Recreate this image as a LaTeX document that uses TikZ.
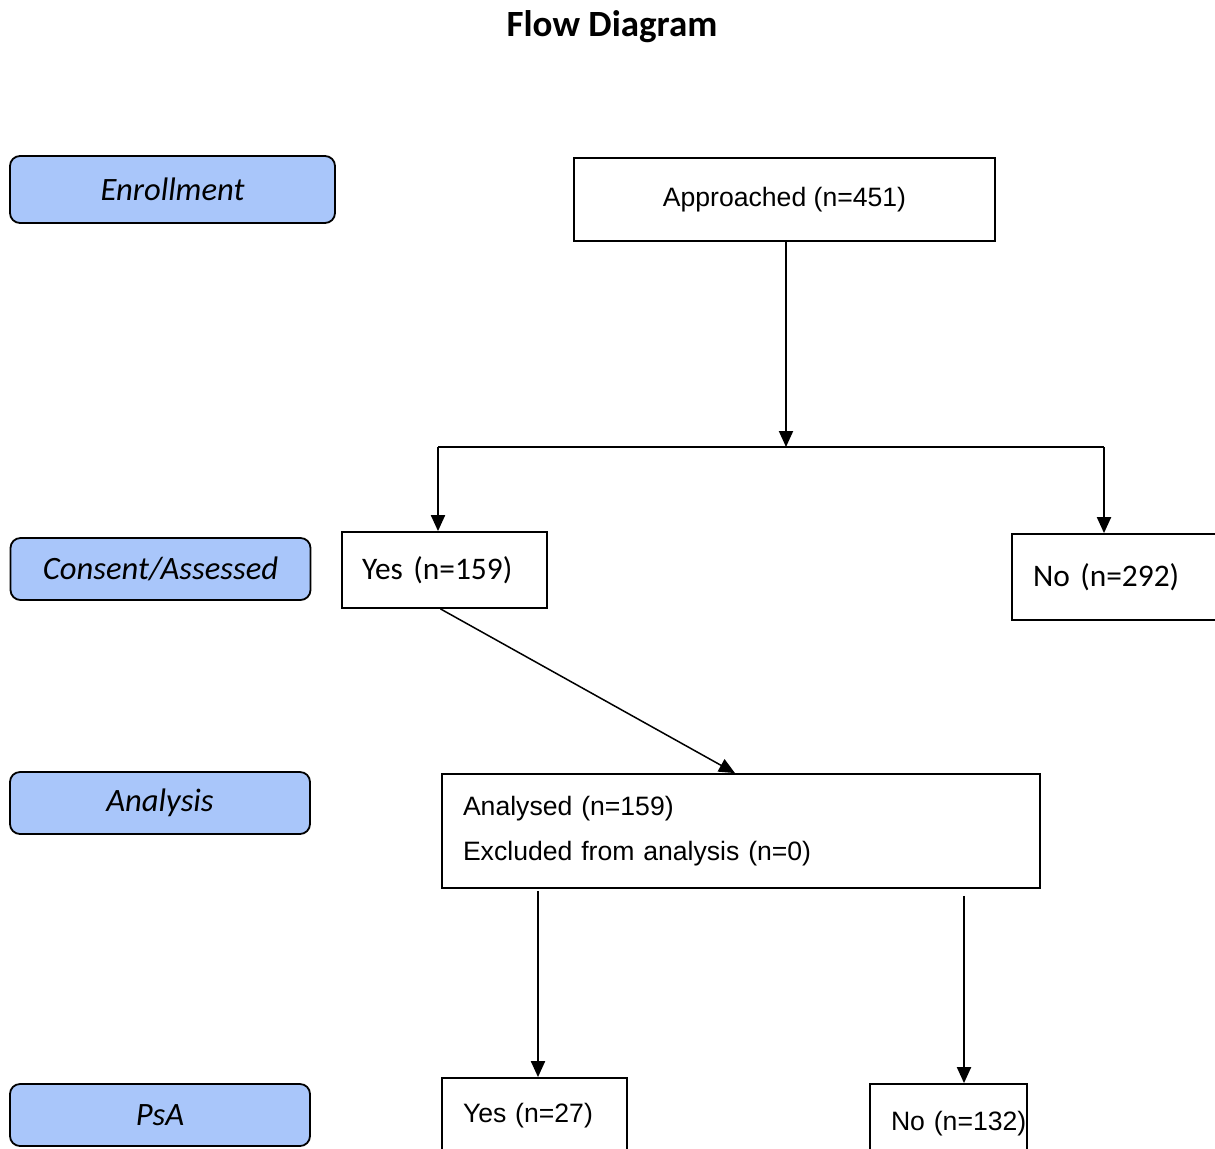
\documentclass[tikz,border=0pt]{standalone}
\usepackage{fontspec}
\setmainfont{Carlito}
\newfontfamily\arialfont{Liberation Sans}
\usetikzlibrary{arrows.meta}
\definecolor{stagefill}{RGB}{169,198,250}

\begin{document}
\begin{tikzpicture}[x=0.5pt,y=-0.5pt,
  stage/.style={draw, line width=0.9pt, rounded corners=5pt, fill=stagefill,
    minimum width=150pt, minimum height=31pt, inner sep=0pt,
    font=\fontsize{16.3}{19}\selectfont\itshape},
  box/.style={draw, line width=0.9pt, inner sep=0pt, align=left},
  arial/.style={font=\arialfont\fontsize{13.3}{16}\selectfont},
  arr/.style={line width=1pt, -{Triangle[length=8pt,width=7pt]}}]
  \useasboundingbox (0,0) rectangle (1215,1148);

  % Title
  \node[font=\fontsize{18.5}{22}\selectfont\bfseries] (title) at (612,27) {Flow Diagram};

  % Stage labels on the left
  \node[stage, minimum width=162.5pt, minimum height=33.5pt] (enrol) at (172.5,189.5) {Enrollment};
  \node[stage] (consent) at (160.5,569) {Consent/Assessed};
  \node[stage] (analysis) at (160,803) {Analysis};
  \node[stage] (psa) at (160,1115) {PsA};

  % Flow boxes
  \node[box, arial, minimum width=210.5pt, minimum height=41.5pt] (approached) at (784.5,199.5) {Approached (n=451)};
  \node[box, text width=82.5pt, inner xsep=10pt, minimum height=38pt,
    font=\fontsize{15.7}{18}\selectfont] (yes159) at (444.5,570) {\mbox{Yes (n=159)}};
  \node[box, text width=81pt, inner xsep=10.5pt, minimum height=43pt,
    font=\fontsize{15.7}{18}\selectfont] (no292) at (1114,577) {\mbox{No (n=292)}};
  \node[box, arial, text width=278pt, inner xsep=10.5pt, minimum height=57pt] (analysed) at (741,831)
    {Analysed (n=159)\\[6.5pt]Excluded from analysis (n=0)};
  \node[box, arial, text width=71.5pt, inner xsep=10.5pt, minimum height=38pt] (yes27) at (534.5,1116) {\mbox{Yes (n=27)}};
  \node[box, arial, text width=57.5pt, inner xsep=10.5pt, minimum height=40pt] (no132) at (948.5,1124) {\mbox{No (n=132)}};

  % Split after approach
  \coordinate (split) at (786,447);
  \coordinate (left) at ([xshift=-3.25pt]yes159.north);
  \coordinate (right) at ([xshift=-5pt]no292.north);
  \draw[arr] (approached.south -| split) -- (split);
  \draw[line width=1pt] (left |- split) -- (right |- split);
  \draw[arr] (left |- split) -- (left);
  \draw[arr] (right |- split) -- (right);

  % Consent to analysis
  \draw[line width=0.75pt, -{Triangle[length=8pt,width=7pt]}] ([xshift=-2pt]yes159.south) -- ([xshift=-3pt]analysed.north);

  % Analysis outcome
  \coordinate (psayes) at ([xshift=1.75pt]yes27.north);
  \coordinate (psano) at ([xshift=7.75pt]no132.north);
  \draw[arr, shorten <=1pt] (psayes |- analysed.south) -- (psayes);
  \draw[arr, shorten <=3.5pt] (psano |- analysed.south) -- (psano);
\end{tikzpicture}
\end{document}
